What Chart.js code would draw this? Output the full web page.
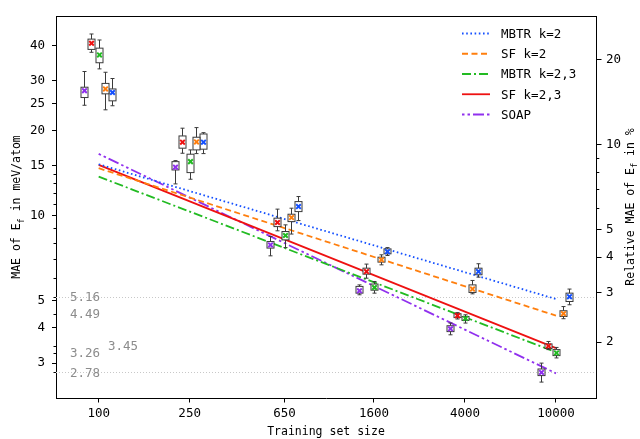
<!DOCTYPE html>
<html>
<head>
<meta charset="utf-8">
<script src="https://cdn.jsdelivr.net/npm/chart.js@4/dist/chart.umd.min.js"></script>
<style>
html,body{margin:0;padding:0;background:#fff;}
#wrap{width:640px;height:439px;}
</style>
</head>
<body>
<div id="wrap"><canvas id="c" width="640" height="439"></canvas></div>
<script>
// ---------------- DATA ----------------
const trainingSizes = [100, 250, 650, 1600, 4000, 10000];
const xTickValues = [100, 250, 650, 1600, 4000, 10000];
const yTickValues = [3, 4, 5, 10, 15, 20, 25, 30, 40];
const yMinorTicks = [6, 7, 8, 9, 11, 12, 13, 14];
const y2TickValues = [2, 3, 4, 5, 10, 20];
const y2MinorTicks = [6, 7, 8, 9];
const annotValues = [5.16, 4.49, 3.45, 3.26, 2.78];
const annotLineValues = [5.16, 2.78];
const relativeDivisor = 1.78; // meV/atom per 1 % (relative axis)

// fitted power-law lines (values at first and last training size)
const fitSizes = [100, 10000];
const mbtr2Fit = [15.2, 5.06];
const sf2Fit = [14.72, 4.42];
const mbtr23Fit = [13.74, 3.28];
const sf23Fit = [15.12, 3.39];
const soapFit = [16.54, 2.76];

// box statistics per method: whisker low, Q1, mean, Q3, whisker high
const mbtr2Lo   = [24.5, 16.58, 9.6, 7.22, 6.05, 4.83];
const mbtr2Q1   = [25.5, 17.19, 10.33, 7.32, 6.17, 4.96];
const mbtr2Mean = [27.3, 18.2, 10.76, 7.45, 6.33, 5.16];
const mbtr2Q3   = [28.1, 19.46, 11.21, 7.62, 6.51, 5.31];
const mbtr2Hi   = [30.6, 19.67, 11.68, 7.7, 6.75, 5.49];

const sf2Lo   = [23.7, 16.58, 8.6, 6.69, 5.28, 4.31];
const sf2Q1   = [27.0, 17.09, 9.52, 6.84, 5.34, 4.39];
const sf2Mean = [28.1, 18.24, 9.84, 6.97, 5.49, 4.49];
const sf2Q3   = [29.4, 18.95, 10.11, 7.12, 5.68, 4.6];
const sf2Hi   = [32.2, 20.5, 10.62, 7.26, 5.89, 4.76];

const mbtr23Lo   = [33.1, 13.45, 7.7, 5.31, 4.16, 3.13];
const mbtr23Q1   = [34.8, 14.2, 8.2, 5.44, 4.25, 3.19];
const mbtr23Mean = [37.1, 15.53, 8.5, 5.56, 4.32, 3.26];
const mbtr23Q3   = [39.2, 16.5, 8.78, 5.72, 4.39, 3.35];
const mbtr23Hi   = [41.9, 17.09, 9.27, 5.84, 4.45, 3.41];

const sf23Lo   = [37.9, 16.63, 8.83, 6.0, 4.30, 3.35];
const sf23Q1   = [38.8, 17.33, 9.14, 6.2, 4.35, 3.38];
const sf23Mean = [40.8, 18.2, 9.45, 6.33, 4.42, 3.45];
const sf23Q3   = [42.2, 19.15, 9.79, 6.51, 4.49, 3.51];
const sf23Hi   = [44.0, 20.4, 10.54, 6.73, 4.53, 3.58];

const soapLo   = [24.6, 12.95, 7.2, 5.24, 3.78, 2.57];
const soapQ1   = [26.2, 14.51, 7.67, 5.31, 3.88, 2.71];
const soapMean = [27.7, 14.84, 7.87, 5.41, 3.97, 2.78];
const soapQ3   = [28.5, 15.53, 8.09, 5.61, 4.07, 2.86];
const soapHi   = [32.4, 15.66, 8.43, 5.68, 4.16, 3.0];

// ---------------- STYLE ----------------
const FONT = '"DejaVu Sans Mono", monospace';
const series = [
  {label:'MBTR k=2',   color:'#1450ff', dash:[1.6,2.6],     fit:mbtr2Fit,  shift:1.14,  lo:mbtr2Lo,  q1:mbtr2Q1,  mean:mbtr2Mean,  q3:mbtr2Q3,  hi:mbtr2Hi},
  {label:'SF k=2',     color:'#ff7f0e', dash:[6,3.5],       fit:sf2Fit,    shift:1.068, lo:sf2Lo,    q1:sf2Q1,    mean:sf2Mean,    q3:sf2Q3,    hi:sf2Hi},
  {label:'MBTR k=2,3', color:'#22bb22', dash:[9,3,2,3],     fit:mbtr23Fit, shift:1.0,   lo:mbtr23Lo, q1:mbtr23Q1, mean:mbtr23Mean, q3:mbtr23Q3, hi:mbtr23Hi},
  {label:'SF k=2,3',   color:'#ee1111', dash:[],            fit:sf23Fit,   shift:0.927, lo:sf23Lo,   q1:sf23Q1,   mean:sf23Mean,   q3:sf23Q3,   hi:sf23Hi},
  {label:'SOAP',       color:'#9030ee', dash:[2.5,3,2.5,3,11,3], fit:soapFit, shift:0.86, lo:soapLo, q1:soapQ1, mean:soapMean, q3:soapQ3, hi:soapHi}
];

const datasets = series.map(s => ({
  label: s.label,
  data: fitSizes.map((n, i) => ({x: n, y: s.fit[i]})),
  borderColor: s.color,
  borderWidth: 1.8,
  borderDash: s.dash,
  pointRadius: 0,
  fill: false,
  yAxisID: 'y'
}));

// ---------------- PLUGINS ----------------
const backgroundPlugin = {
  id: 'bgAnnot',
  beforeDatasetsDraw(chart) {
    const {ctx, chartArea: a, scales: {y}} = chart;
    ctx.save();
    ctx.strokeStyle = '#c8c8c8';
    ctx.lineWidth = 1;
    ctx.setLineDash([1, 2]);
    annotLineValues.forEach(v => {
      const py = Math.round(y.getPixelForValue(v)) + 0.5;
      ctx.beginPath(); ctx.moveTo(a.left, py); ctx.lineTo(a.right, py); ctx.stroke();
    });
    ctx.restore();
  }
};

const boxPlugin = {
  id: 'boxes',
  afterDatasetsDraw(chart) {
    const {ctx, chartArea: a, scales: {x, y}} = chart;
    ctx.save();
    // annotation texts
    ctx.font = '12.5px ' + FONT;
    ctx.fillStyle = '#8c8c8c';
    ctx.textBaseline = 'middle';
    ctx.textAlign = 'left';
    annotValues.forEach(v => {
      const py = y.getPixelForValue(v);
      const px = (v === 3.45) ? 108 : 70;
      ctx.fillText(v.toFixed(2), px, py + 1);
    });
    // box plots
    const bw = 7, cw = 4;
    series.forEach(s => {
      trainingSizes.forEach((n, i) => {
        const px = Math.round(x.getPixelForValue(n * s.shift)) + 0.5;
        const yLo = y.getPixelForValue(s.lo[i]);
        const yQ1 = y.getPixelForValue(s.q1[i]);
        const yM  = y.getPixelForValue(s.mean[i]);
        const yQ3 = y.getPixelForValue(s.q3[i]);
        const yHi = y.getPixelForValue(s.hi[i]);
        ctx.setLineDash([]);
        ctx.strokeStyle = '#3a3a3a';
        ctx.lineWidth = 1;
        ctx.beginPath();
        ctx.moveTo(px, yHi); ctx.lineTo(px, yQ3);
        ctx.moveTo(px, yQ1); ctx.lineTo(px, yLo);
        ctx.moveTo(px - cw/2, yHi); ctx.lineTo(px + cw/2, yHi);
        ctx.moveTo(px - cw/2, yLo); ctx.lineTo(px + cw/2, yLo);
        ctx.stroke();
        ctx.fillStyle = '#ffffff';
        ctx.fillRect(px - bw/2, yQ3, bw, yQ1 - yQ3);
        ctx.strokeRect(px - bw/2, yQ3, bw, yQ1 - yQ3);
        // mean marker (x)
        ctx.strokeStyle = s.color;
        ctx.lineWidth = 2;
        const r = 2.3;
        ctx.beginPath();
        ctx.moveTo(px - r, yM - r); ctx.lineTo(px + r, yM + r);
        ctx.moveTo(px - r, yM + r); ctx.lineTo(px + r, yM - r);
        ctx.stroke();
      });
    });
    ctx.restore();
  },
  afterDraw(chart) {
    const {ctx, chartArea: a, scales: {y, y2}} = chart;
    ctx.save();
    // frame (top spine)
    ctx.strokeStyle = '#000';
    ctx.lineWidth = 1;
    ctx.setLineDash([]);
    ctx.beginPath();
    ctx.moveTo(a.left, Math.round(a.top) + 0.5);
    ctx.lineTo(a.right, Math.round(a.top) + 0.5);
    ctx.stroke();
    // minor ticks left
    ctx.beginPath();
    yMinorTicks.concat(annotValues).forEach(v => {
      const py = Math.round(y.getPixelForValue(v)) + 0.5;
      ctx.moveTo(a.left - 2.5, py); ctx.lineTo(a.left, py);
    });
    // minor ticks right
    y2MinorTicks.forEach(v => {
      const py = Math.round(y2.getPixelForValue(v)) + 0.5;
      ctx.moveTo(a.right, py); ctx.lineTo(a.right + 3.3, py);
    });
    ctx.stroke();

    // legend
    ctx.textBaseline = 'middle';
    ctx.textAlign = 'left';
    series.forEach((s, i) => {
      const ly = 33.5 + i * 20.25;
      ctx.strokeStyle = s.color;
      ctx.lineWidth = 1.8;
      ctx.setLineDash(s.dash);
      ctx.beginPath(); ctx.moveTo(462, ly); ctx.lineTo(490, ly); ctx.stroke();
      ctx.setLineDash([]);
      ctx.fillStyle = '#000';
      ctx.font = '12.5px ' + FONT;
      ctx.fillText(s.label, 501, ly + 1);
    });

    // axis titles with subscript
    const drawRich = (parts, cx, cy, rot) => {
      ctx.save();
      ctx.translate(cx, cy);
      ctx.rotate(rot);
      let total = 0;
      parts.forEach(p => { ctx.font = (p.sub ? '8.5px ' : '11.5px ') + FONT; p.w = ctx.measureText(p.t).width; total += p.w; });
      let x0 = -total / 2;
      ctx.fillStyle = '#000';
      ctx.textBaseline = 'middle';
      ctx.textAlign = 'left';
      parts.forEach(p => {
        ctx.font = (p.sub ? '8.5px ' : '11.5px ') + FONT;
        ctx.fillText(p.t, x0, p.sub ? 4 : 0);
        x0 += p.w;
      });
      ctx.restore();
    };
    const midY = (a.top + a.bottom) / 2;
    drawRich([{t:'MAE of E'}, {t:'f', sub:true}, {t:' in meV/atom'}], 17.5, midY, -Math.PI / 2);
    drawRich([{t:'Relative MAE of E'}, {t:'f', sub:true}, {t:' in %'}], 631, midY, -Math.PI / 2);
    drawRich([{t:'Training set size'}], (a.left + a.right) / 2, 432, 0);
    ctx.restore();
  }
};

// ---------------- CHART ----------------
const yMin = 2.257, yMax = 50.96;
new Chart(document.getElementById('c'), {
  type: 'line',
  data: { datasets },
  options: {
    responsive: false,
    animation: false,
    devicePixelRatio: 1,
    layout: { padding: { top: 16, left: 0, right: 0, bottom: 0 } },
    plugins: { legend: { display: false }, tooltip: { enabled: false } },
    scales: {
      x: {
        type: 'logarithmic', position: 'bottom', min: 65.07, max: 14963,
        afterBuildTicks: s => { s.ticks = xTickValues.map(v => ({value: v})); },
        ticks: { callback: v => String(v), font: {family: FONT, size: 12.5}, color: '#000', padding: 4, autoSkip: false, maxRotation: 0 },
        grid: { display: true, drawOnChartArea: false, drawTicks: true, tickLength: 4.5, tickColor: '#000' },
        border: { display: true, color: '#000', width: 1 },
        afterFit: s => { s.height = 41; }
      },
      y: {
        type: 'logarithmic', position: 'left', min: yMin, max: yMax,
        afterBuildTicks: s => { s.ticks = yTickValues.map(v => ({value: v})); },
        ticks: { callback: v => String(v), font: {family: FONT, size: 12.5}, color: '#000', padding: 7, autoSkip: false },
        grid: { display: true, drawOnChartArea: false, drawTicks: true, tickLength: 4, tickColor: '#000' },
        border: { display: true, color: '#000', width: 1 },
        afterFit: s => { s.width = 56; }
      },
      y2: {
        type: 'logarithmic', position: 'right', min: yMin / relativeDivisor, max: yMax / relativeDivisor,
        afterBuildTicks: s => { s.ticks = y2TickValues.map(v => ({value: v})); },
        ticks: { callback: v => String(v), font: {family: FONT, size: 12.5}, color: '#000', padding: 4.5, autoSkip: false },
        grid: { display: true, drawOnChartArea: false, drawTicks: true, tickLength: 5.5, tickColor: '#000' },
        border: { display: true, color: '#000', width: 1 },
        afterFit: s => { s.width = 44; }
      }
    }
  },
  plugins: [backgroundPlugin, boxPlugin]
});
</script>
</body>
</html>
